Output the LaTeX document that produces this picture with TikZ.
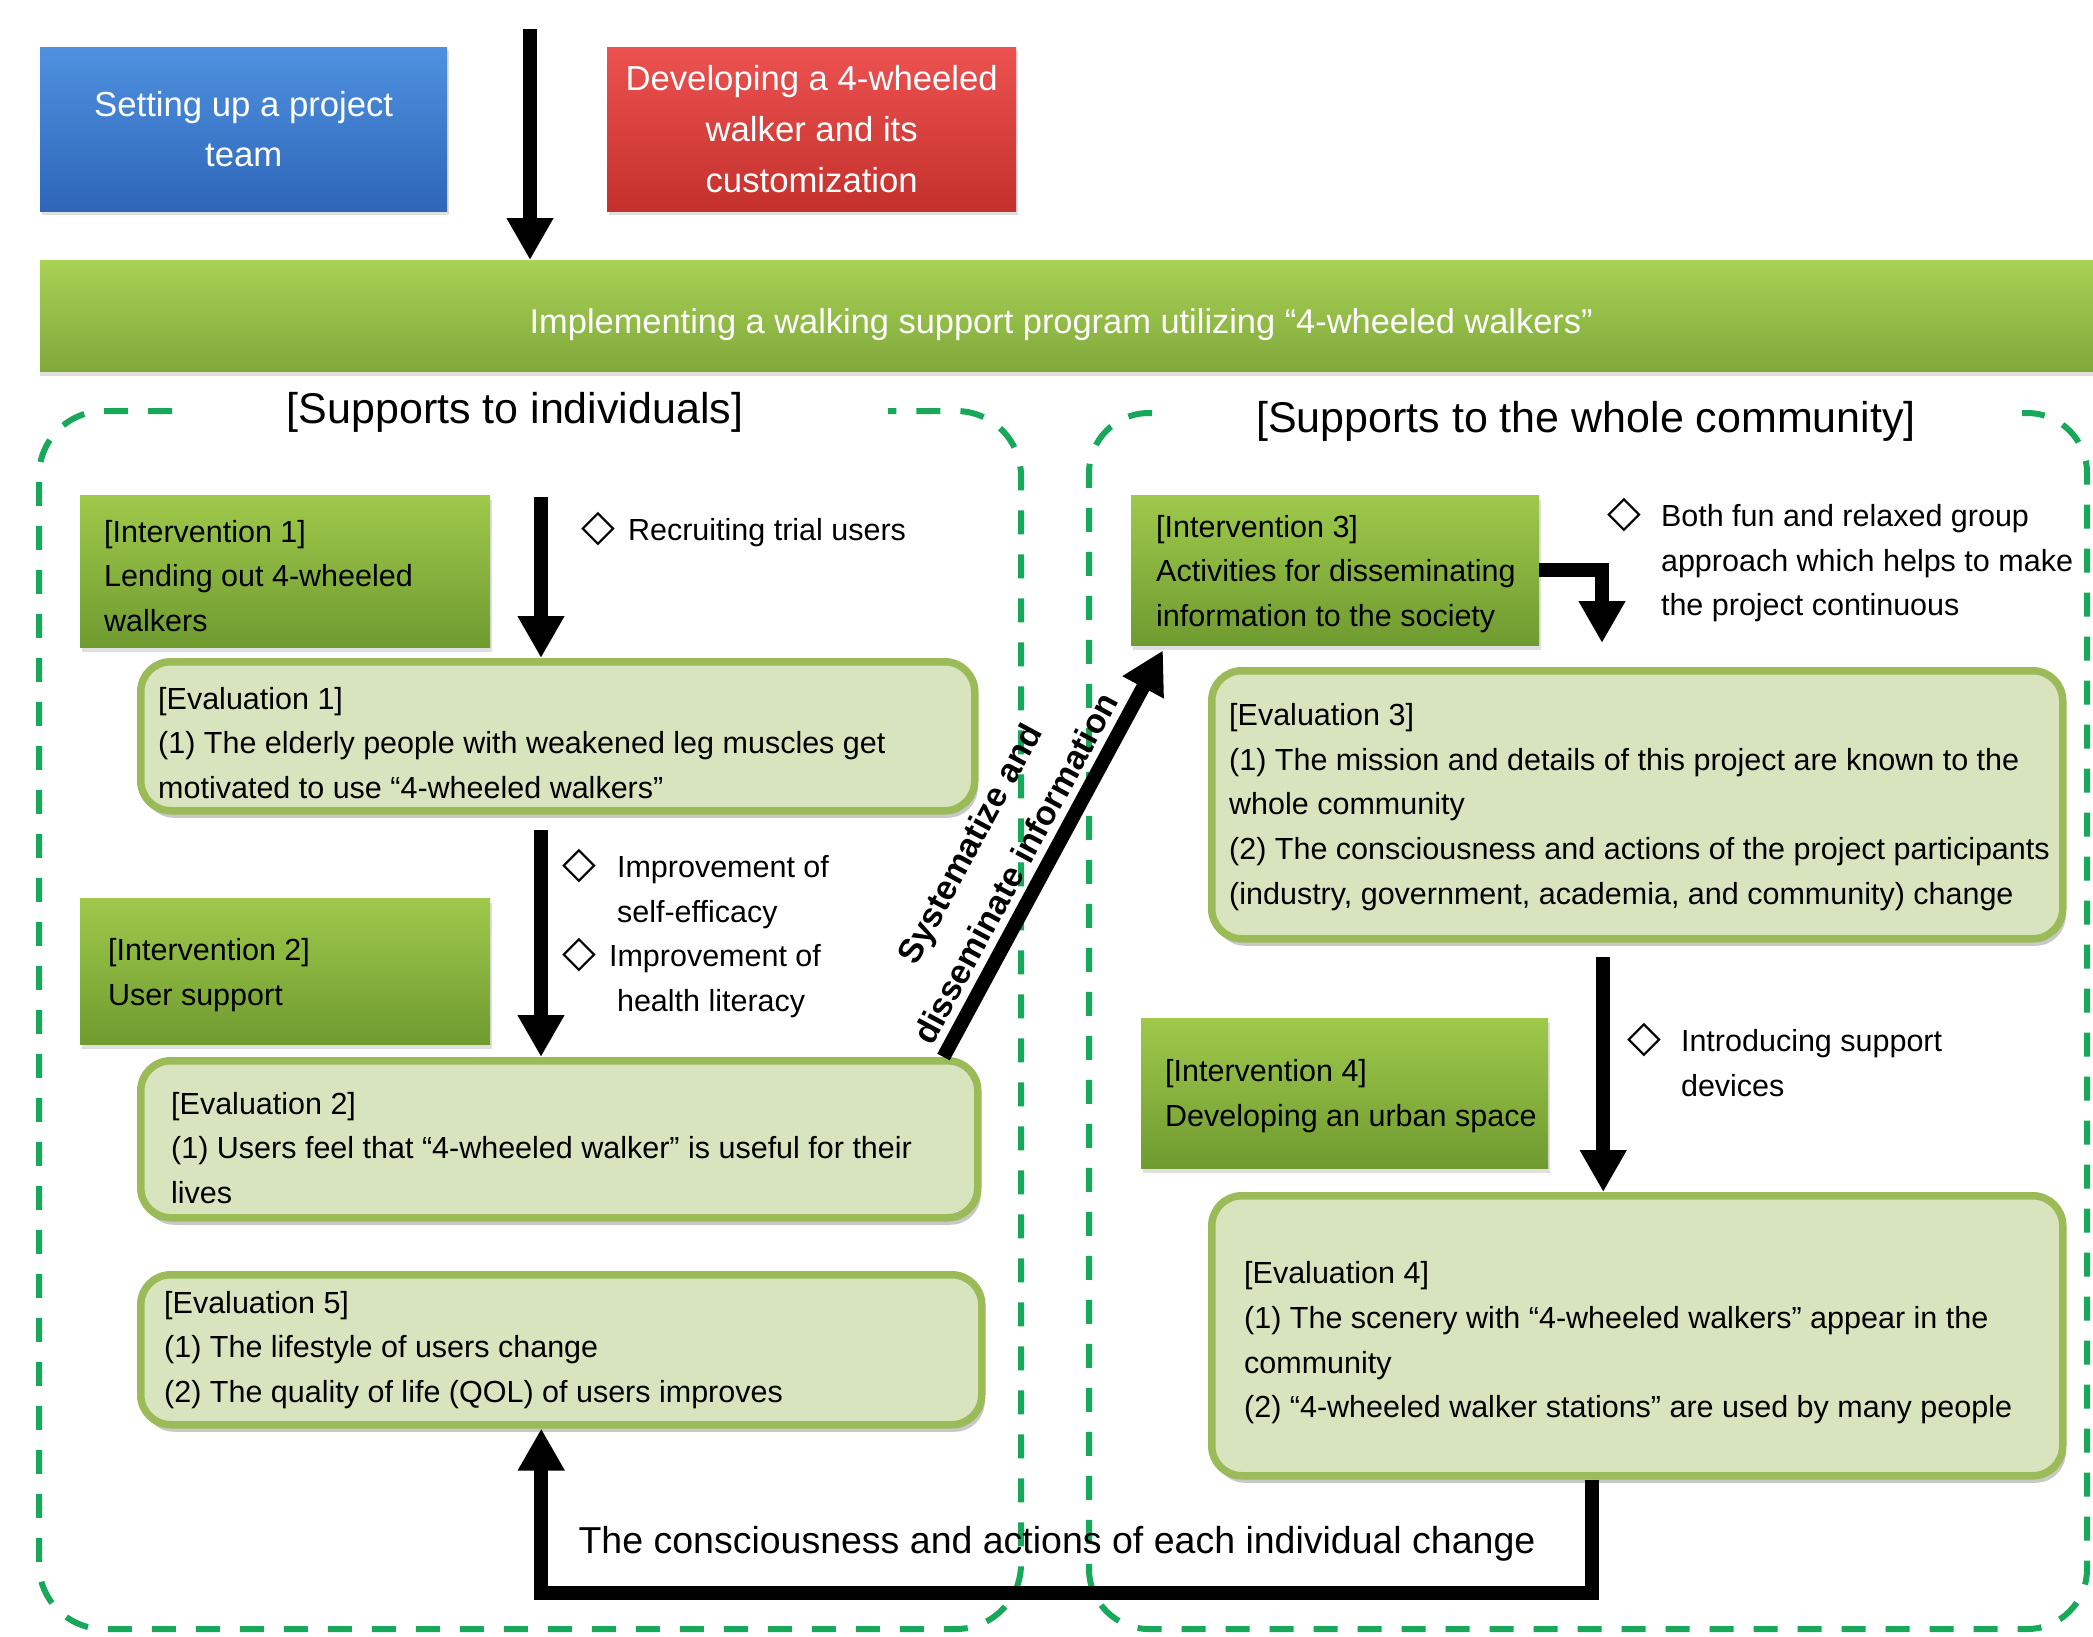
\documentclass[tikz,border=0pt]{standalone}
\usepackage{fontspec}
\setmainfont{Liberation Sans}
\newfontfamily\mydiafont{DejaVu Sans}
\usetikzlibrary{arrows.meta,shadows,calc}

\definecolor{dashgreen}{HTML}{17A85A}
\definecolor{bluetop}{HTML}{4F91E0}
\definecolor{bluebot}{HTML}{2E66B8}
\definecolor{redtop}{HTML}{EC5250}
\definecolor{redbot}{HTML}{C4302C}
\definecolor{bartop}{HTML}{A9D255}
\definecolor{barbot}{HTML}{80A83B}
\definecolor{inttop}{HTML}{9FC94B}
\definecolor{intbot}{HTML}{6F9B30}
\definecolor{evalfill}{HTML}{D7E4BD}
\definecolor{evalborder}{HTML}{9BBB59}

\newcommand\myfbody{\fontsize{30.5}{44.7}\selectfont}
\newcommand\myftop{\fontsize{34.7}{50.7}\selectfont}
\newcommand\myfbar{\fontsize{34.4}{40}\selectfont}
\newcommand\myfhead{\fontsize{43}{50}\selectfont}
\newcommand\myfloop{\fontsize{37.5}{45}\selectfont}
\newcommand\myfdiag{\fontsize{34}{52}\selectfont\bfseries}
\newcommand\mydia{\smash{\mydiafont\fontsize{44}{44}\selectfont ◇}}

\tikzset{
  dashreg/.style={draw=dashgreen, line width=6pt, dash pattern=on 24pt off 20pt},
  topbox/.style={anchor=north west, minimum height=164pt, inner sep=0pt, text=white,
    align=center, font=\myftop,
    drop shadow={shadow xshift=2pt, shadow yshift=-4pt, opacity=0.25}},
  intbox/.style={anchor=north west, inner sep=0pt, top color=inttop, bottom color=intbot,
    drop shadow={shadow xshift=2pt, shadow yshift=-5pt, opacity=0.25}},
  evalbox/.style={anchor=north west, inner sep=0pt, draw=evalborder, line width=7.5pt,
    rounded corners=30pt, fill=evalfill,
    drop shadow={shadow xshift=3pt, shadow yshift=-7pt, opacity=0.3, fill=black!70}},
  bodytext/.style={anchor=west, align=left, inner sep=0pt, font=\myfbody, text=black},
  note/.style={anchor=north west, inner sep=0pt, font=\myfbody, text=black},
  bigarrow/.style={line width=14pt, -{Triangle[length=42pt, width=44pt]}},
  headtext/.style={inner sep=0pt, font=\myfhead, text=black},
}

\begin{document}
\begin{tikzpicture}[x=1pt,y=-1pt]
\useasboundingbox (0,0) rectangle (2093,1636);
\fill[white] (0,0) rectangle (2093,1636);

% dashed regions
\draw[dashreg, rounded corners=65pt] (172,411) -- (39,411) -- (39,1629) -- (1021,1629) -- (1021,411) -- (888,411);
\draw[dashreg, rounded corners=60pt] (1152,413) -- (1089,413) -- (1089,1629) -- (2087,1629) -- (2087,413) -- (2022,413);

% top boxes
\node[topbox, top color=bluetop, bottom color=bluebot, minimum width=407pt] (team) at (40,47) {Setting up a project\\team};
\node[topbox, top color=redtop, bottom color=redbot, minimum width=409pt] (walker) at (607,47) {Developing a 4-wheeled\\walker and its\\customization};

% program bar
\node[anchor=north west, minimum width=2070pt, minimum height=111pt, inner sep=0pt,
  top color=bartop, bottom color=barbot, text=white, font=\myfbar,
  drop shadow={shadow xshift=0pt, shadow yshift=-5pt, opacity=0.25}] (prog) at (40,260)
  {\hspace*{-28pt}\raisebox{-18pt}[0pt][0pt]{Implementing a walking support program utilizing “4-wheeled walkers”}};

\coordinate (topstart) at (530,29);
\draw[bigarrow] (topstart) -- (topstart |- prog.north);

% headers
\node[headtext] (hleft) at (515,412) {[Supports to individuals]};
\node[headtext] (hright) at (1586,421) {[Supports to the whole community]};

% intervention boxes
\node[intbox, minimum width=410pt, minimum height=152pt] (int1) at (80,495) {};
\node[bodytext] (int1t) at (104,576) {[Intervention 1]\\Lending out 4-wheeled\\walkers};
\node[intbox, minimum width=410pt, minimum height=146pt] (int2) at (80,898) {};
\node[bodytext] (int2t) at (108,975) {[Intervention 2]\\User support};
\node[intbox, minimum width=408pt, minimum height=150pt] (int3) at (1131,495) {};
\node[bodytext] (int3t) at (1156,574) {[Intervention 3]\\Activities for disseminating\\information to the society};
\node[intbox, minimum width=407pt, minimum height=150pt] (int4) at (1141,1018) {};
\node[bodytext] (int4t) at (1165,1096) {[Intervention 4]\\Developing an urban space};

% evaluation boxes
\node[evalbox, minimum width=834pt, minimum height=149pt] (eval1) at (137,658) {};
\node[bodytext] (eval1t) at (158,743) {[Evaluation 1]\\(1) The elderly people with weakened leg muscles get\\motivated to use “4-wheeled walkers”};
\node[evalbox, minimum width=837pt, minimum height=157pt] (eval2) at (137,1057) {};
\node[bodytext] (eval2t) at (171,1148) {[Evaluation 2]\\(1) Users feel that “4-wheeled walker” is useful for their\\lives};
\node[evalbox, minimum width=841pt, minimum height=150pt] (eval5) at (137,1271) {};
\node[bodytext] (eval5t) at (164,1350) {[Evaluation 5]\\(1) The lifestyle of users change\\(2) The quality of life (QOL) of users improves};
\node[evalbox, minimum width=851pt, minimum height=268pt] (eval3) at (1208,667) {};
\node[bodytext] (eval3t) at (1229,807) {[Evaluation 3]\\(1) The mission and details of this project are known to the\\whole community\\(2) The consciousness and actions of the project participants\\(industry, government, academia, and community) change};
\node[evalbox, minimum width=851pt, minimum height=280pt] (eval4) at (1208,1192) {};
\node[bodytext] (eval4t) at (1244,1343) {[Evaluation 4]\\(1) The scenery with “4-wheeled walkers” appear in the\\community\\(2) “4-wheeled walker stations” are used by many people};

% notes
\node[note] (note1) at (581,509) {\begin{tabular}{@{}l@{\hspace{13pt}}l@{}}\mydia & Recruiting trial users\end{tabular}};
\node[note] (note2) at (562,846) {\begin{tabular}{@{}l@{\hspace{21pt}}l@{}}\mydia & Improvement of\\ & self-efficacy\\ \mydia & \hspace*{-8pt}Improvement of\\ & health literacy\end{tabular}};
\node[note] (note3) at (1607,495) {\begin{tabular}{@{}l@{\hspace{20pt}}l@{}}\mydia & Both fun and relaxed group\\ & approach which helps to make\\ & the project continuous\end{tabular}};
\node[note] (note4) at (1627,1020) {\begin{tabular}{@{}l@{\hspace{20pt}}l@{}}\mydia & Introducing support\\ & devices\end{tabular}};

% arrows
\coordinate (a1s) at (541,497);
\draw[bigarrow] (a1s) -- (a1s |- eval1.north);
\coordinate (a2s) at (541,830);
\draw[bigarrow] (a2s) -- (a2s |- eval2.north);
\draw[bigarrow] ($(eval2.north east)+(-38,0)$) -- ($(int3.south west)+(32,5)$);
\node[inner sep=0pt, font=\myfdiag, align=center, rotate=61.6] (diag) at (992,856) {Systematize and\\disseminate information};
\coordinate (e3tip) at (1602,643);
\draw[bigarrow] (int3.east) -| (e3tip);
\draw[bigarrow] ([shift={(-34,14)}]eval3.south) -- ([xshift=-34]eval4.north);
\draw[bigarrow] ([xshift=-45]eval4.south) -- ++(0,113) -| ([xshift=-20]eval5.south);
\node[inner sep=0pt, font=\myfloop] (loopt) at (1057,1544) {The consciousness and actions of each individual change};
\end{tikzpicture}
\end{document}
